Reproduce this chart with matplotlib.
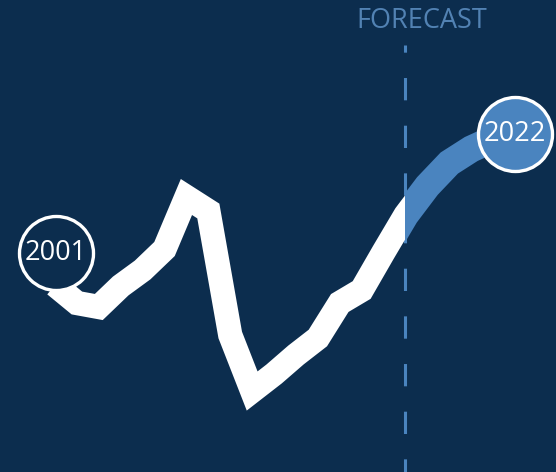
import matplotlib.pyplot as plt
from matplotlib.patches import Rectangle
from matplotlib.transforms import offset_copy

# index values per year, actuals then forecast
years_actual = list(range(2001, 2018))
values_actual = [18.7, 16.9, 16.5, 18.6, 20.2, 22.3, 27.5, 26.1, 13.7,
                 8.1, 9.8, 11.7, 13.4, 16.9, 18.2, 22.0, 25.7]
years_forecast = list(range(2018, 2023))
values_forecast = [28.6, 30.9, 32.3, 33.3, 33.8]
forecast_start = 2017
label_text = "FORECAST"

BG = "#0c2d4e"
BLUE = "#4a84bf"
FONT = ["Open Sans", "DejaVu Sans"]

fig = plt.figure(figsize=(5.56, 4.72), dpi=100, facecolor=BG)
ax = fig.add_axes([0, 0, 1, 1])
ax.set_facecolor(BG)
ax.set_xlim(1998.49, 2023.87)
ax.set_ylim(0, 47.2)
ax.axis("off")

all_years = years_actual + years_forecast
all_values = values_actual + values_forecast

# forecast divider
ax.axvline(forecast_start, ymin=0, ymax=0.905, color=BLUE, lw=2.2,
           ls=(3, (7.3, 8.3)), zorder=1)

# blue band for forecast, clipped to the right of the divider
blue, = ax.plot(all_years[-7:], all_values[-7:], color=BLUE, lw=19.5,
                solid_joinstyle="miter", solid_capstyle="butt", zorder=2)
blue.set_clip_path(Rectangle((forecast_start, -10), 20, 100,
                             transform=ax.transData))

# white band for actuals, clipped to the left of the divider
white, = ax.plot(all_years[:len(years_actual) + 1],
                 all_values[:len(years_actual) + 1], color="white", lw=17.5,
                 solid_joinstyle="miter", solid_capstyle="butt", zorder=3)
white.set_clip_path(Rectangle((1990, -10), forecast_start - 1990, 100,
                              transform=ax.transData))

# year badges at both ends
start_tr = offset_copy(ax.transData, fig=fig, x=1, y=32, units="dots")
ax.scatter([years_actual[0]], [values_actual[0]], s=2840, color=BG,
           edgecolor="white", linewidth=2.4, transform=start_tr, zorder=5)
ax.text(years_actual[0], values_actual[0], str(years_actual[0]),
        transform=start_tr, ha="center", va="center", color="white",
        fontsize=19.5, family=FONT, zorder=6)

ax.scatter([years_forecast[-1]], [values_forecast[-1]], s=2840, color=BLUE,
           edgecolor="white", linewidth=2.4, zorder=5)
ax.text(years_forecast[-1], values_forecast[-1], str(years_forecast[-1]),
        ha="center", va="center", color="white", fontsize=19.5, family=FONT,
        zorder=6)

ax.annotate(label_text, xy=(forecast_start, 1),
            xycoords=("data", "axes fraction"), xytext=(16, -21),
            textcoords="offset pixels", ha="center", va="center",
            color="#5282b3", fontsize=19.5, family=FONT)

fig.savefig("out.png", dpi=100, facecolor=BG)
